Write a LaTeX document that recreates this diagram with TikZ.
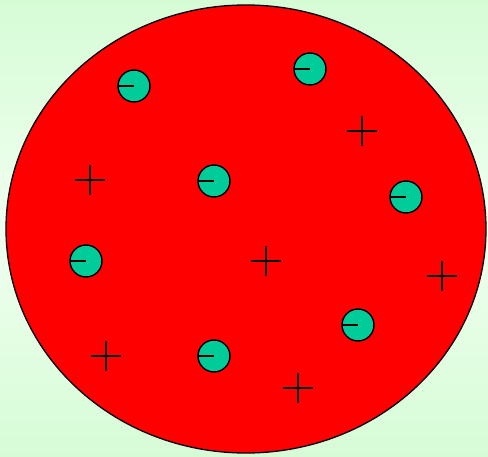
\documentclass[tikz,border=0pt]{standalone}
\usetikzlibrary{shapes.geometric}
\definecolor{bgedge}{RGB}{214,252,214}
\definecolor{bgmid}{RGB}{240,255,240}
\definecolor{electron}{RGB}{0,204,153}
\tikzset{
  electronball/.style={circle, draw=black, line width=1.4pt, fill=electron, minimum size=32pt, inner sep=0pt},
  minusbar/.style={line width=1.6pt},
  plusbar/.style={line width=1.6pt},
}
\begin{document}
\begin{tikzpicture}[x=1pt,y=-1pt]
\useasboundingbox (0,0) rectangle (488,457);
\shade[top color=bgedge, bottom color=bgedge, middle color=bgmid] (0,0) rectangle (488,457);
\node[ellipse, draw=black, line width=1.3pt, fill=red, minimum width=480pt, minimum height=448pt, inner sep=0pt] (atom) at (246,229) {};
% electrons
\foreach \n/\x/\y in {e1/134/86, e2/310/69, e3/214/181, e4/406/197, e5/86/261, e6/358/325, e7/214/356}{
  \node[electronball] (\n) at (\x,\y) {};
  \draw[minusbar] (\n.west) -- (\n.center);
}
% positive charges
\foreach \n/\x/\y in {p1/362/131, p2/90/180, p3/266/261, p4/442/276, p5/106/356, p6/298/388}{
  \coordinate (\n) at (\x,\y);
  \draw[plusbar] ([xshift=-15pt]\n) -- ([xshift=15pt]\n);
  \draw[plusbar] ([yshift=-15pt]\n) -- ([yshift=15pt]\n);
}
\end{tikzpicture}
\end{document}
